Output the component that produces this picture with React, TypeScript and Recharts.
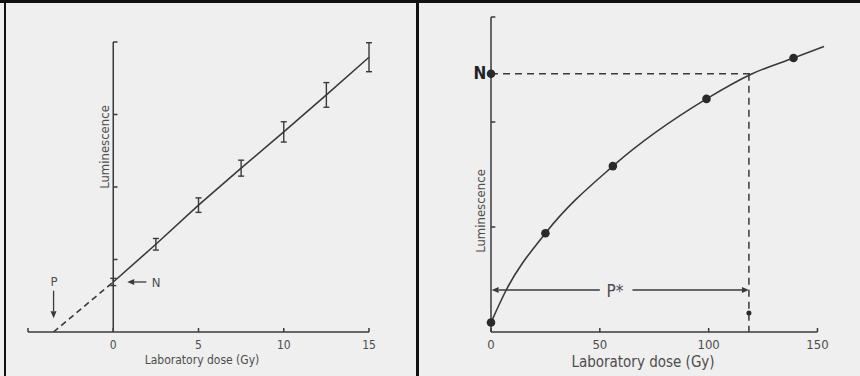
import React from 'react';
import { ComposedChart, Line, Scatter, XAxis, YAxis, ErrorBar, ReferenceLine, ReferenceDot } from 'recharts';

// left panel: additive dose, linear growth with error bars
const leftDose = [0, 2.5, 5, 7.5, 10, 12.5, 15];
const leftLum = [0.69, 1.21, 1.75, 2.26, 2.76, 3.27, 3.79];
const leftErr = [0.05, 0.08, 0.1, 0.11, 0.14, 0.17, 0.2];
const extrapDose = [-3.5, 0];
const extrapLum = [0, 0.69];
const leftXTicks = [-5, 0, 5, 10, 15];
const leftYTicks = [1, 2, 3, 4];

// right panel: regeneration, saturating growth
const rightDose = [0, 25, 56, 99, 139];
const rightLum = [0.09, 0.94, 1.58, 2.22, 2.61];
const curveDose = [0, 7, 25, 56, 99, 120, 139, 153];
const curveLum = [0.09, 0.4, 0.94, 1.58, 2.22, 2.46, 2.61, 2.72];
const rightXTicks = [0, 50, 100, 150];
const rightYTicks = [1, 2, 3];
const naturalLum = 2.46;
const equivDose = 118.5;

const INK = '#3a3a3a';
const TEXT = '#4d4d4d';
const FONT = '"DejaVu Sans Condensed", "Liberation Sans Narrow", "Roboto", sans-serif';

const leftData = leftDose.map((x, i) => ({ x, y: leftLum[i], err: leftErr[i] }));
const extrapData = extrapDose.map((x, i) => ({ x, y: extrapLum[i] }));
const pointData = rightDose.map((x, i) => ({ x, y: rightLum[i] }));
const curveData = curveDose.map((x, i) => ({ x, y: curveLum[i] }));

const makeTick = (fontSize: number) => (props: any) => {
    const { x, y, payload } = props;
    return (
        <g>
            <line x1={x} y1={y} x2={x} y2={y - 4} stroke={INK} strokeWidth={1.5} />
            {payload.value >= 0 && (
                <text x={x} y={y + 17} textAnchor="middle" fontSize={fontSize} fill={TEXT} fontFamily={FONT}>
                    {payload.value}
                </text>
            )}
        </g>
    );
};

// line with a filled head at (x2, y2)
const Arrow = (props: any) => {
    const { x1, y1, x2, y2 } = props;
    const a = Math.atan2(y2 - y1, x2 - x1);
    const len = 7;
    const w = 3;
    const bx = x2 - len * Math.cos(a);
    const by = y2 - len * Math.sin(a);
    const px = -Math.sin(a) * w;
    const py = Math.cos(a) * w;
    return (
        <g>
            <line x1={x1} y1={y1} x2={bx} y2={by} stroke={INK} strokeWidth={1.3} />
            <polygon points={`${x2},${y2} ${bx + px},${by + py} ${bx - px},${by - py}`} fill={INK} />
        </g>
    );
};

const Txt: React.FC<{ x: number; y: number; size: number; rotate?: boolean; bold?: boolean; color?: string; children: React.ReactNode }> = ({ x, y, size, rotate, bold, color, children }) => (
    <div
        style={{
            position: 'absolute',
            left: x,
            top: y,
            transform: `translate(-50%, -50%)${rotate ? ' rotate(-90deg)' : ''}`,
            fontSize: size,
            fontFamily: FONT,
            fontWeight: bold ? 700 : 400,
            color: color || TEXT,
            whiteSpace: 'nowrap',
            lineHeight: 1,
        }}
    >
        {children}
    </div>
);

const App: React.FC = () => {
    return (
        <div style={{ position: 'absolute', left: 0, top: 0, width: 860, height: 376, background: '#efefef', overflow: 'hidden' }}>
            <div style={{ position: 'absolute', left: 0, top: 0 }}>
                <ComposedChart width={418} height={376} margin={{ top: 42, right: 49, left: 28, bottom: 14 }}>
                    <XAxis
                        dataKey="x"
                        type="number"
                        domain={[-5, 15]}
                        ticks={leftXTicks}
                        interval={0}
                        height={30}
                        stroke={INK}
                        strokeWidth={1.5}
                        tickLine={false}
                        tickSize={0}
                        tickMargin={0}
                        tick={makeTick(12)}
                    />
                    <YAxis hide type="number" domain={[0, 4]} />
                    <ReferenceLine x={0} stroke={INK} strokeWidth={1.5} />
                    {leftYTicks.map(t => (
                        <ReferenceLine key={t} segment={[{ x: 0, y: t }, { x: 0.25, y: t }]} stroke={INK} strokeWidth={1.5} />
                    ))}
                    <Line data={extrapData} dataKey="y" stroke={INK} strokeWidth={1.6} strokeDasharray="6 4" dot={false} isAnimationActive={false} />
                    <Line data={leftData} dataKey="y" stroke={INK} strokeWidth={1.6} dot={false} isAnimationActive={false}>
                        <ErrorBar dataKey="err" width={3} stroke={INK} strokeWidth={1.4} direction="y" />
                    </Line>
                    <ReferenceLine segment={[{ x: -3.5, y: 0.57 }, { x: -3.5, y: 0.19 }]} shape={(p: any) => <Arrow {...p} />} />
                    <ReferenceLine segment={[{ x: 1.94, y: 0.69 }, { x: 0.82, y: 0.69 }]} shape={(p: any) => <Arrow {...p} />} />
                </ComposedChart>
            </div>

            <div style={{ position: 'absolute', left: 420, top: 0 }}>
                <ComposedChart width={440} height={376} margin={{ top: 17, right: 36, left: 71, bottom: 14 }}>
                    <XAxis
                        dataKey="x"
                        type="number"
                        domain={[0, 153]}
                        ticks={rightXTicks}
                        interval={0}
                        height={30}
                        axisLine={false}
                        tickLine={false}
                        tickSize={0}
                        tickMargin={0}
                        tick={makeTick(13)}
                    />
                    <YAxis hide type="number" domain={[0, 3]} />
                    <ReferenceLine x={0} stroke={INK} strokeWidth={1.5} />
                    {rightYTicks.map(t => (
                        <ReferenceLine key={t} segment={[{ x: 0, y: t }, { x: 2, y: t }]} stroke={INK} strokeWidth={1.5} />
                    ))}
                    <ReferenceLine segment={[{ x: 0, y: 0 }, { x: 150, y: 0 }]} stroke={INK} strokeWidth={1.5} />
                    <ReferenceLine segment={[{ x: 0, y: naturalLum }, { x: 120, y: naturalLum }]} stroke={INK} strokeWidth={1.5} strokeDasharray="7 5" />
                    <ReferenceLine segment={[{ x: equivDose, y: naturalLum }, { x: equivDose, y: 0 }]} stroke={INK} strokeWidth={1.5} strokeDasharray="7 5" />
                    <ReferenceLine segment={[{ x: 50, y: 0.4 }, { x: 0.3, y: 0.4 }]} shape={(p: any) => <Arrow {...p} />} />
                    <ReferenceLine segment={[{ x: 65, y: 0.4 }, { x: equivDose, y: 0.4 }]} shape={(p: any) => <Arrow {...p} />} />
                    <Line data={curveData} dataKey="y" type="monotone" stroke={INK} strokeWidth={1.6} dot={false} isAnimationActive={false} />
                    <Scatter data={pointData} dataKey="y" fill="#2a2a2a" shape={(p: any) => <circle cx={p.cx} cy={p.cy} r={4.3} fill="#2a2a2a" />} isAnimationActive={false} />
                    <ReferenceDot x={0} y={naturalLum} r={4.3} fill="#2a2a2a" stroke="none" />
                    <ReferenceDot x={equivDose} y={0.18} r={2.5} fill="#2a2a2a" stroke="none" />
                </ComposedChart>
            </div>

            {/* frame */}
            <div style={{ position: 'absolute', left: 0, top: 0, width: 860, height: 3, background: '#111' }} />
            <div style={{ position: 'absolute', left: 4, top: 0, width: 2, height: 376, background: '#111' }} />
            <div style={{ position: 'absolute', left: 416, top: 0, width: 2.5, height: 376, background: '#111' }} />

            {/* texts */}
            <Txt x={104} y={147} size={13} rotate>Luminescence</Txt>
            <Txt x={202} y={360} size={12}>Laboratory dose (Gy)</Txt>
            <Txt x={54} y={281} size={13}>P</Txt>
            <Txt x={156} y={282} size={13}>N</Txt>

            <Txt x={480} y={211} size={13} rotate>Luminescence</Txt>
            <Txt x={643} y={362} size={15}>Laboratory dose (Gy)</Txt>
            <Txt x={480} y={73} size={17} bold color="#222">N</Txt>
            <Txt x={615} y={291} size={17}>P*</Txt>
        </div>
    );
};

export default App;
